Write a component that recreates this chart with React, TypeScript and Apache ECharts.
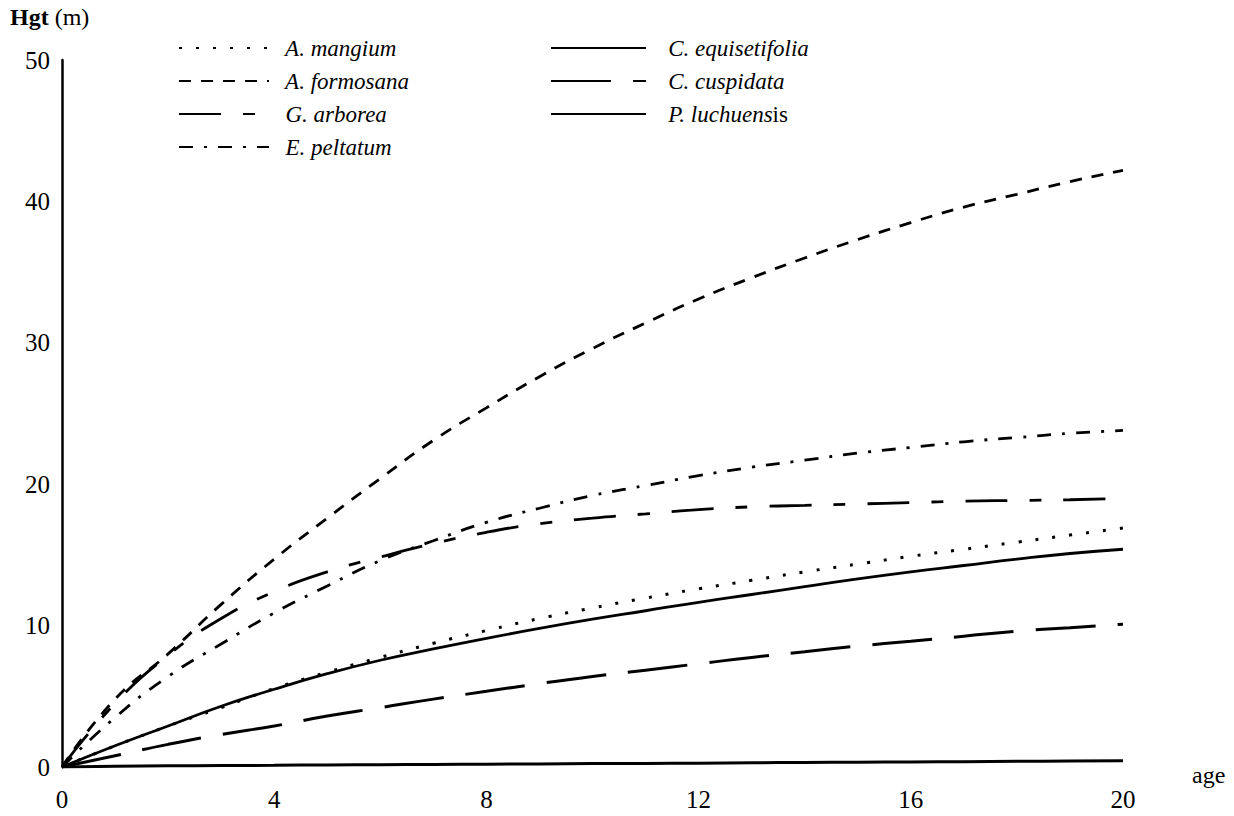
import React, { useEffect, useRef } from "react";
import * as echarts from "echarts";

const ages = [0, 1, 2, 3, 4, 5, 6, 7, 8, 9, 10, 11, 12, 13, 14, 15, 16, 17, 18, 19, 20];

const aMangium = [0, 1.5, 2.9, 4.2, 5.55, 6.7, 7.75, 8.75, 9.65, 10.5, 11.25, 11.95, 12.6, 13.2, 13.8, 14.35, 14.9, 15.4, 15.9, 16.4, 16.9];
const aFormosana = [0, 4.8, 8.0, 11.5, 14.7, 17.6, 20.4, 23.1, 25.4, 27.6, 29.6, 31.4, 33.1, 34.6, 36.0, 37.3, 38.5, 39.6, 40.5, 41.4, 42.2];
const gArborea = [0, 4.5, 7.9, 10.5, 12.4, 13.8, 14.85, 15.8, 16.6, 17.2, 17.6, 17.9, 18.2, 18.4, 18.5, 18.6, 18.7, 18.8, 18.85, 18.9, 19.0];
const ePeltatum = [0, 3.5, 6.4, 8.7, 10.9, 12.8, 14.6, 16.0, 17.3, 18.3, 19.2, 19.9, 20.6, 21.2, 21.7, 22.2, 22.6, 23.0, 23.3, 23.6, 23.8];
const cEquisetifolia = [0, 1.5, 2.9, 4.3, 5.5, 6.6, 7.55, 8.35, 9.1, 9.8, 10.45, 11.05, 11.65, 12.2, 12.75, 13.3, 13.8, 14.25, 14.7, 15.1, 15.4];
const cCuspidata = [0, 0.8, 1.6, 2.3, 2.9, 3.6, 4.2, 4.8, 5.35, 5.9, 6.4, 6.85, 7.3, 7.75, 8.15, 8.55, 8.9, 9.25, 9.6, 9.85, 10.1];
const pLuchuensis = [0, 0.05, 0.08, 0.1, 0.12, 0.15, 0.16, 0.18, 0.2, 0.22, 0.24, 0.25, 0.27, 0.3, 0.32, 0.34, 0.36, 0.38, 0.4, 0.42, 0.45];

const yTicks = [0, 10, 20, 30, 40, 50];
const xTicks = [0, 4, 8, 12, 16, 20];

const names = [
  "A. mangium",
  "A. formosana",
  "G. arborea",
  "E. peltatum",
  "C. equisetifolia",
  "C. cuspidata",
  "P. luchuensis",
];

const FONT = "'Liberation Serif', 'DejaVu Serif', serif";

export default function App() {
  const ref = useRef<HTMLDivElement>(null);

  useEffect(() => {
    if (!ref.current) return;
    const chart = echarts.init(ref.current, undefined, { renderer: "svg" });

    const mk = (name: string, vals: number[], type: any, width = 2.8) => ({
      name,
      type: "line",
      smooth: true,
      showSymbol: false,
      symbol: "none",
      data: ages.map((a, i) => [a, vals[i]]),
      lineStyle: { color: "#000", width, type, cap: "butt" },
      itemStyle: { color: "#000" },
      z: 3,
    });

    const rich = {
      n: { fontFamily: FONT, fontSize: 23, fontStyle: "normal", color: "#000" },
      i: { fontFamily: FONT, fontSize: 23, fontStyle: "italic", color: "#000" },
    };

    const legendText = {
      fontFamily: FONT,
      fontSize: 23,
      fontStyle: "italic",
      color: "#000",
      lineHeight: 24,
      rich,
    };

    chart.setOption({
      animation: false,
      backgroundColor: "#fff",
      grid: { left: 62, right: 111, top: 60, bottom: 49, containLabel: false },
      legend: [
        {
          data: names.slice(0, 4),
          orient: "vertical",
          left: 173,
          top: 31,
          itemWidth: 90,
          itemHeight: 22,
          itemGap: 9,
          textStyle: legendText,
          itemStyle: { opacity: 0 },
          formatter: (n: string) => "{i|  " + n + "}",
          selectedMode: false,
        },
        {
          data: names.slice(4),
          orient: "vertical",
          left: 545,
          top: 31,
          itemWidth: 95,
          itemHeight: 22,
          itemGap: 9,
          textStyle: legendText,
          itemStyle: { opacity: 0 },
          formatter: (n: string) =>
            n === "P. luchuensis" ? "{i|   P. luchuens}{n|is}" : "{i|   " + n + "}",
          selectedMode: false,
        },
      ],
      xAxis: {
        type: "value",
        min: 0,
        max: 20,
        interval: 4,
        axisLine: { show: false },
        axisTick: { show: false },
        splitLine: { show: false },
        axisLabel: {
          fontFamily: FONT,
          fontSize: 25,
          color: "#000",
          margin: 20,
          customValues: xTicks,
        },
      },
      yAxis: {
        type: "value",
        min: 0,
        max: 50,
        interval: 10,
        axisLine: { show: true, lineStyle: { color: "#000", width: 2.5 } },
        axisTick: { show: false },
        splitLine: { show: false },
        axisLabel: {
          fontFamily: FONT,
          fontSize: 25,
          color: "#000",
          margin: 12,
          customValues: yTicks,
        },
      },
      graphic: [
        {
          type: "text",
          left: 10,
          top: 5,
          style: {
            text: "{b|Hgt}{n| (m)}",
            rich: {
              b: { fontFamily: FONT, fontSize: 24, fontWeight: "bold", fill: "#000" },
              n: { fontFamily: FONT, fontSize: 24, fill: "#000" },
            },
          },
        },
        {
          type: "text",
          left: 1192,
          top: 763,
          style: { text: "age", fontFamily: FONT, fontSize: 24, fill: "#000" },
        },
      ],
      series: [
        mk(names[0], aMangium, [3, 14], 3),
        mk(names[1], aFormosana, [12, 10]),
        mk(names[2], gArborea, [42, 22, 12, 22]),
        mk(names[3], ePeltatum, [14, 11, 3, 11]),
        mk(names[4], cEquisetifolia, "solid"),
        mk(names[5], cCuspidata, [60, 22], 3),
        mk(names[6], pLuchuensis, "solid", 3),
      ],
    });

    return () => chart.dispose();
  }, []);

  return (
    <div
      ref={ref}
      style={{ position: "fixed", left: 0, top: 0, width: 1234, height: 816, background: "#fff" }}
    />
  );
}
